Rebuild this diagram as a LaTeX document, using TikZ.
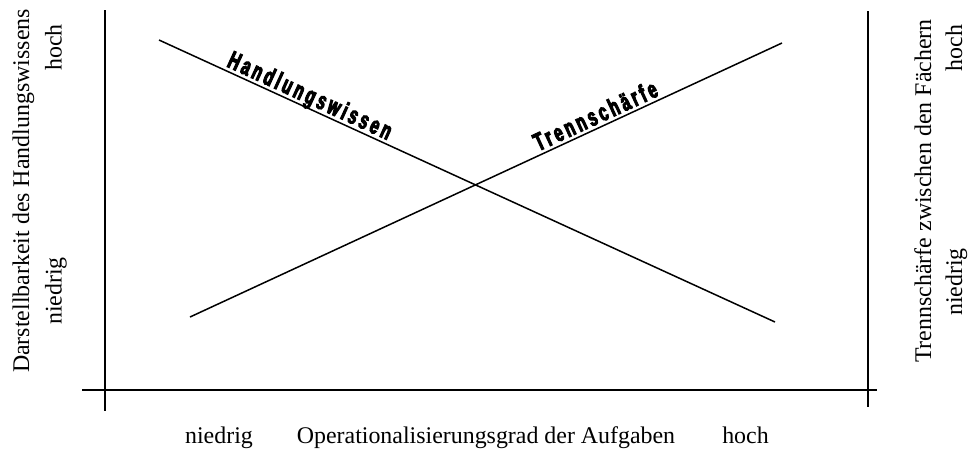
\documentclass[tikz,border=0pt]{standalone}
\usepackage{fontspec}
\setmainfont{Liberation Serif}
\newfontfamily\heavy[FakeBold=4,FakeStretch=0.62,LetterSpace=13]{Liberation Sans Bold}
\begin{document}
\begin{tikzpicture}[x=1pt,y=-1pt,
  lbl/.style={font=\fontsize{23.9}{26}\selectfont,inner sep=0pt,anchor=base},
  curve/.style={line width=1.5pt},
  axis/.style={line width=1.6pt},
  tag/.style={font=\heavy\fontsize{25}{27}\selectfont,inner sep=0pt,anchor=base}]
\useasboundingbox (0,0) rectangle (968,451);
% axes
\coordinate (lt) at (105,10);
\coordinate (lb) at (105,411);
\coordinate (rt) at (868,11);
\coordinate (rb) at (868,407);
\coordinate (hl) at (82,390);
\coordinate (hr) at (877,390);
\draw[axis] (lt) -- (lb);
\draw[axis] (rt) -- (rb);
\draw[axis] (hl) -- (hr);
% curves
\coordinate (h1) at (159,40);
\coordinate (h2) at (775,322);
\coordinate (t1) at (190,317);
\coordinate (t2) at (782,43);
\draw[curve] (h1) -- (h2);
\draw[curve] (t1) -- (t2);
\node[tag,rotate=-24.6] (hw) at (306.7,103.2) {Handlungswissen};
\node[tag,rotate=24.8] (ts) at (599,123.4) {Trennschärfe};
% bottom labels
\node[lbl] (bn) at (219,443) {niedrig};
\node[lbl] (bt) at (486,443) {Operationalisierungsgrad der Aufgaben};
\node[lbl] (bh) at (745.5,443) {hoch};
% left labels
\node[lbl,rotate=90] (lt1) at (29,191) {Darstellbarkeit des Handlungswissens};
\node[lbl,rotate=90] (lh) at (61.5,47.5) {hoch};
\node[lbl,rotate=90] (ln) at (61.5,291) {niedrig};
% right labels
\node[lbl,rotate=90] (rt1) at (931,191) {Trennschärfe zwischen den Fächern};
\node[lbl,rotate=90] (rh) at (962,48) {hoch};
\node[lbl,rotate=90] (rn) at (962,282) {niedrig};
\end{tikzpicture}
\end{document}
